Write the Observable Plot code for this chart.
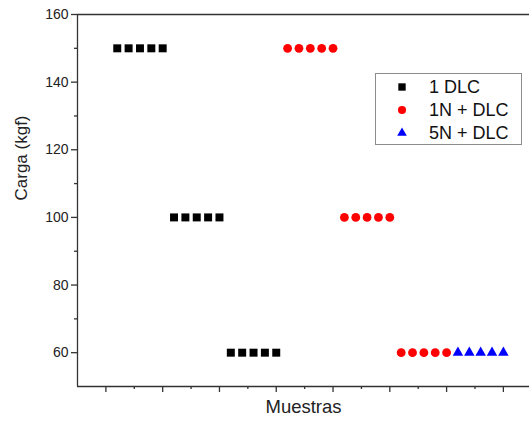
<!DOCTYPE html>
<html><head><meta charset="utf-8">
<script src="https://cdn.jsdelivr.net/npm/d3@7"></script>
<script src="https://cdn.jsdelivr.net/npm/@observablehq/plot@0.6"></script>
<style>
body{margin:0;background:#fff;font-family:"Liberation Sans",Arial,sans-serif;}
#wrap{position:relative;width:529px;height:421px;overflow:hidden;}
#legend{position:absolute;left:375px;top:73px;width:147px;height:72px;border:1px solid #8c8c8c;background:#fff;box-sizing:border-box;}
.row{position:absolute;left:0;width:145px;height:23px;font-size:18px;color:#111;}
.row svg{position:absolute;left:20px;top:5px;}
.row span{position:absolute;left:53px;top:2px;line-height:19px;white-space:nowrap;}
</style>
</head><body>
<div id="wrap"></div>
<script>
// Series names and colours
const seriesNames = ["1 DLC", "1N + DLC", "5N + DLC"];
const seriesColors = ["#000000", "#ff0000", "#0000ff"];
const seriesSymbols = ["square", "circle", "triangle"];

// Sample index (position along "Muestras") and load (kgf)
const dlc1Samples = [1,2,3,4,5,6,7,8,9,10,11,12,13,14,15];
const dlc1Loads   = [150,150,150,150,150,100,100,100,100,100,60,60,60,60,60];
const n1Samples   = [16,17,18,19,20,21,22,23,24,25,26,27,28,29,30];
const n1Loads     = [150,150,150,150,150,100,100,100,100,100,60,60,60,60,60];
const n5Samples   = [31,32,33,34,35];
const n5Loads     = [60,60,60,60,60];

// Axis ticks
const yMajorTicks = [60,80,100,120,140,160];
const yMinorTicks = [70,90,110,130,150];
const xMajorTicks = [0,5,10,15,20,25,30,35];
const xMinorTicks = [2.5,7.5,12.5,17.5,22.5,27.5,32.5];
const xDomain = [-2.5, 37.3];
const yDomain = [50, 160];
const yLabel = "Carga (kgf)";
const xLabel = "Muestras";

const toRows = (xs, ys) => xs.map((s, i) => ({sample: s, load: ys[i]}));
const groups = [toRows(dlc1Samples, dlc1Loads), toRows(n1Samples, n1Loads), toRows(n5Samples, n5Loads)];
const radii = [4.5, 4.4, 3.9];

const axisStyle = {stroke: "#333", strokeWidth: 1.3};

const chart = Plot.plot({
  width: 529, height: 421,
  marginLeft: 77, marginRight: 0, marginTop: 14, marginBottom: 35,
  style: {fontFamily: "Liberation Sans, Arial, sans-serif", fontSize: "14px", color: "#222", background: "#fff", overflow: "visible"},
  x: {domain: xDomain, label: null},
  y: {domain: yDomain, label: null},
  marks: [
    Plot.axisY(yMajorTicks, {tickSize: 6, tickPadding: 3, ...axisStyle, label: null, fontSize: 14, fill: "#222"}),
    Plot.axisY(yMinorTicks, {tickSize: 3, ...axisStyle, tickFormat: () => "", label: null}),
    Plot.axisX(xMajorTicks, {tickSize: 6, ...axisStyle, tickFormat: () => "", label: null}),
    Plot.axisX(xMinorTicks, {tickSize: 3, ...axisStyle, tickFormat: () => "", label: null}),
    Plot.ruleX([xDomain[0]], {...axisStyle}),
    Plot.ruleY(yDomain, {...axisStyle}),
    ...groups.map((g, i) => Plot.dot(g, {x: "sample", y: "load", symbol: seriesSymbols[i], r: radii[i], fill: seriesColors[i], stroke: "none"})),
    Plot.text([yLabel], {text: d => d, frameAnchor: "left", rotate: -90, dx: -56, fontSize: 17, fill: "#222"}),
    Plot.text([xLabel], {text: d => d, frameAnchor: "bottom", dy: 26, fontSize: 18.5, fill: "#222"})
  ]
});
const wrap = document.getElementById("wrap");
wrap.appendChild(chart);

// Legend
const legend = document.createElement("div");
legend.id = "legend";
seriesNames.forEach((name, i) => {
  const row = document.createElement("div");
  row.className = "row";
  row.style.top = (2 + i * 23) + "px";
  const sym = d3.create("svg").attr("width", 12).attr("height", 12);
  sym.append("path")
    .attr("transform", "translate(6,6)")
    .attr("d", d3.symbol(seriesSymbols[i] === "square" ? d3.symbolSquare : seriesSymbols[i] === "circle" ? d3.symbolCircle : d3.symbolTriangle, Math.PI * radii[i] * radii[i] * 0.85)())
    .attr("fill", seriesColors[i]);
  row.appendChild(sym.node());
  const span = document.createElement("span");
  span.textContent = name;
  row.appendChild(span);
  legend.appendChild(row);
});
wrap.appendChild(legend);
</script>
</body></html>
